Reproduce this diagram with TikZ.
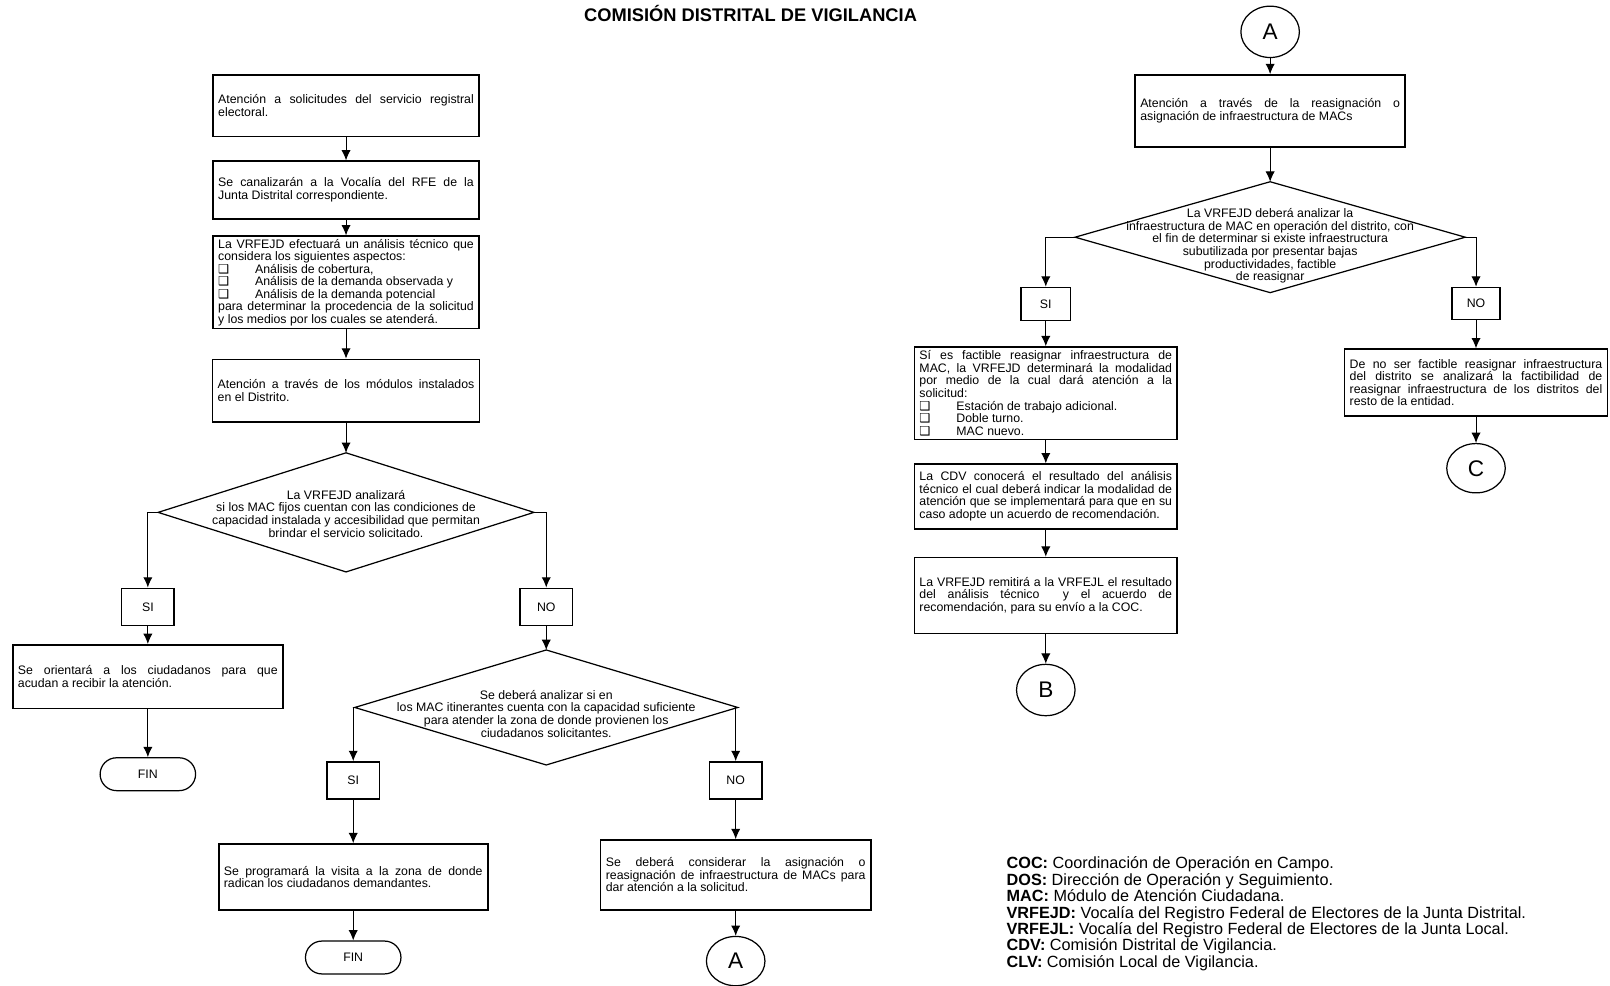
\documentclass[tikz,border=0pt]{standalone}
\usepackage{fontspec}
\setmainfont{Liberation Sans}
\newfontfamily\simbolos{DejaVu Sans}
\usepackage{tikz}
\usetikzlibrary{shapes.geometric}
\usetikzlibrary{arrows.meta}
\newcommand{\letra}{\fontsize{6}{6.1}\selectfont}
\newcommand{\casilla}{\makebox[18pt][l]{\simbolos\char"2751}}
\newcommand{\centrado}[2][0pt]{\makebox[0pt]{\smash{\raisebox{#1}{\begin{tabular}{@{}c@{}}#2\end{tabular}}}}}
\tikzset{caja/.style={draw,line width=0.8pt,inner xsep=2.5pt,inner ysep=1pt,text width=#1,align=justify,font=\letra},caja/.default=124.5pt}
\tikzset{rombo/.style={draw,line width=0.6pt,diamond,inner sep=0pt,outer sep=0pt,font=\letra}}
\tikzset{resp/.style={draw,line width=0.8pt,inner sep=0pt,minimum width=25.5pt,minimum height=18pt,font=\letra}}
\tikzset{fin/.style={draw,line width=0.6pt,rounded corners=8pt,minimum width=46.5pt,minimum height=16pt,font=\letra}}
\tikzset{conector/.style={draw,line width=0.6pt,ellipse,inner sep=0pt,minimum width=28.5pt,minimum height=25pt,font=\fontsize{11}{12}\selectfont}}
\tikzset{flecha/.style={-{Latex[length=5pt,width=4.5pt]},line width=0.5pt}}

\begin{document}
\begin{tikzpicture}[x=0.5pt,y=-0.5pt]
\useasboundingbox (0,0) rectangle (1568,960);
\node (titulo) at (731,13) [font=\bfseries\fontsize{8.9}{9}\selectfont] {COMISIÓN DISTRITAL DE VIGILANCIA};

% columna izquierda
\node (c1) at (337,103) [caja, minimum height=30pt] {Atención a solicitudes del servicio registral\linebreak electoral.};
\node (c2) at (337,185) [caja, minimum height=28pt] {Se canalizarán a la Vocalía del RFE de la\linebreak Junta Distrital correspondiente.};
\node (c3) at (337,275) [caja, minimum height=45pt] {La VRFEJD efectuará un análisis técnico que\linebreak considera los siguientes aspectos:\\ \casilla Análisis de cobertura,\\ \casilla Análisis de la demanda observada y\\ \casilla Análisis de la demanda potencial\\ para determinar la procedencia de la solicitud\linebreak y los medios por los cuales se atenderá.};
\node (c4) at (337,380.5) [caja=125pt, minimum height=30.5pt] {Atención a través de los módulos instalados\linebreak en el Distrito.};
\node (d1) at (337,499) [rombo, minimum width=183pt, minimum height=58pt] {\centrado[-3pt]{La VRFEJD analizará\\ si los MAC fijos cuentan con las condiciones de\\ capacidad instalada y accesibilidad que permitan\\ brindar el servicio solicitado.}};

\draw[flecha] (c1) -- (c2);
\draw[flecha] (c2) -- (c3);
\draw[flecha] (c3) -- (c4);
\draw[flecha] (c4) -- (d1);

% rama SI
\node (si1) at (144,591) [resp] {SI};
\node (o1) at (144,659) [caja=126.5pt, minimum height=31pt] {Se orientará a los ciudadanos para que\linebreak acudan a recibir la atención.};
\node (fin1) at (144,754) [fin] {FIN};
\draw[flecha] (d1.west) -| (si1.north);
\draw[flecha] (si1) -- (o1);
\draw[flecha] (o1) -- (fin1);

% rama NO
\node (no1) at (532,591) [resp] {NO};
\node (d2) at (532,689) [rombo, minimum width=186.5pt, minimum height=56pt] {\centrado[-5.5pt]{Se deberá analizar si en\\ los MAC itinerantes cuenta con la capacidad suficiente\\ para atender la zona de donde provienen los\\ ciudadanos solicitantes.}};
\draw[flecha] (d1.east) -| (no1.north);
\draw[flecha] (no1) -- (d2);

\node (si2) at (344,760) [resp] {SI};
\node (p1) at (344,854) [caja=126pt, minimum height=32pt] {Se programará la visita a la zona de donde\linebreak radican los ciudadanos demandantes.};
\node (fin2) at (344,932.5) [fin] {FIN};
\draw[flecha] (d2.west) -| (si2.north);
\draw[flecha] (si2) -- (p1);
\draw[flecha] (p1) -- (fin2);

\node (no2) at (716.5,760) [resp] {NO};
\node (r1) at (716.5,852) [caja=126.5pt, minimum height=34pt] {Se deberá considerar la asignación o\linebreak reasignación de infraestructura de MACs para\linebreak dar atención a la solicitud.};
\node (a1) at (716.5,936) [conector, minimum height=24pt] {A};
\draw[flecha] (d2.east) -| (no2.north);
\draw[flecha] (no2) -- (r1);
\draw[flecha] (r1) -- (a1);

% columna derecha
\node (a2) at (1237,31) [conector] {A};
\node (s1) at (1237,108) [caja=126.5pt, minimum height=35pt] {Atención a través de la reasignación o\linebreak asignación de infraestructura de MACs};
\node (d3) at (1237,231) [rombo, minimum width=190pt, minimum height=54pt] {\centrado[-6pt]{La VRFEJD deberá analizar la\\ infraestructura de MAC en operación del distrito, con\\ el fin de determinar si existe infraestructura\\ subutilizada por presentar bajas\\ productividades, factible\\ de reasignar}};
\draw[flecha] (a2) -- (s1);
\draw[flecha] (s1) -- (d3);

\node (si3) at (1018.5,296) [resp, minimum width=24pt, minimum height=16pt] {SI};
\node (s2) at (1018.5,383) [caja=123pt, minimum height=45pt] {Sí es factible reasignar infraestructura de\linebreak MAC, la VRFEJD determinará la modalidad\linebreak por medio de la cual dará atención a la\linebreak solicitud:\\ \casilla Estación de trabajo adicional.\\ \casilla Doble turno.\\ \casilla MAC nuevo.};
\node (s3) at (1018.5,483.5) [caja=123pt, minimum height=31.5pt] {La CDV conocerá el resultado del análisis\linebreak técnico el cual deberá indicar la modalidad de\linebreak atención que se implementará para que en su\linebreak caso adopte un acuerdo de recomendación.};
\node (s4) at (1018.5,580) [caja=123pt, minimum height=37pt] {La VRFEJD remitirá a la VRFEJL el resultado\linebreak del análisis técnico \ y el acuerdo de\linebreak recomendación, para su envío a la COC.};
\node (b) at (1018.5,672) [conector] {B};
\draw[flecha] (d3.west) -| (si3.north);
\draw[flecha] (si3) -- (s2);
\draw[flecha] (s2) -- (s3);
\draw[flecha] (s3) -- (s4);
\draw[flecha] (s4) -- (b);

\node (no3) at (1437.5,295.5) [resp, minimum width=23.5pt, minimum height=15.5pt] {NO};
\node (n1) at (1437.5,372.5) [caja=123pt, minimum height=32.5pt] {De no ser factible reasignar infraestructura\linebreak del distrito se analizará la factibilidad de\linebreak reasignar infraestructura de los distritos del\linebreak resto de la entidad.};
\node (c) at (1437.5,456) [conector, minimum height=24pt] {C};
\draw[flecha] (d3.east) -| (no3.north);
\draw[flecha] (no3) -- (n1);
\draw[flecha] (n1) -- (c);

% siglas
\node (siglas) at (980,834) [anchor=north west, align=left, inner sep=0pt, font=\fontsize{7.9}{8}\selectfont] {\textbf{COC:} Coordinación de Operación en Campo.\\ \textbf{DOS:} Dirección de Operación y Seguimiento.\\ \textbf{MAC:} Módulo de Atención Ciudadana.\\ \textbf{VRFEJD:} Vocalía del Registro Federal de Electores de la Junta Distrital.\\ \textbf{VRFEJL:} Vocalía del Registro Federal de Electores de la Junta Local.\\ \textbf{CDV:} Comisión Distrital de Vigilancia.\\ \textbf{CLV:} Comisión Local de Vigilancia.};
\end{tikzpicture}
\end{document}
